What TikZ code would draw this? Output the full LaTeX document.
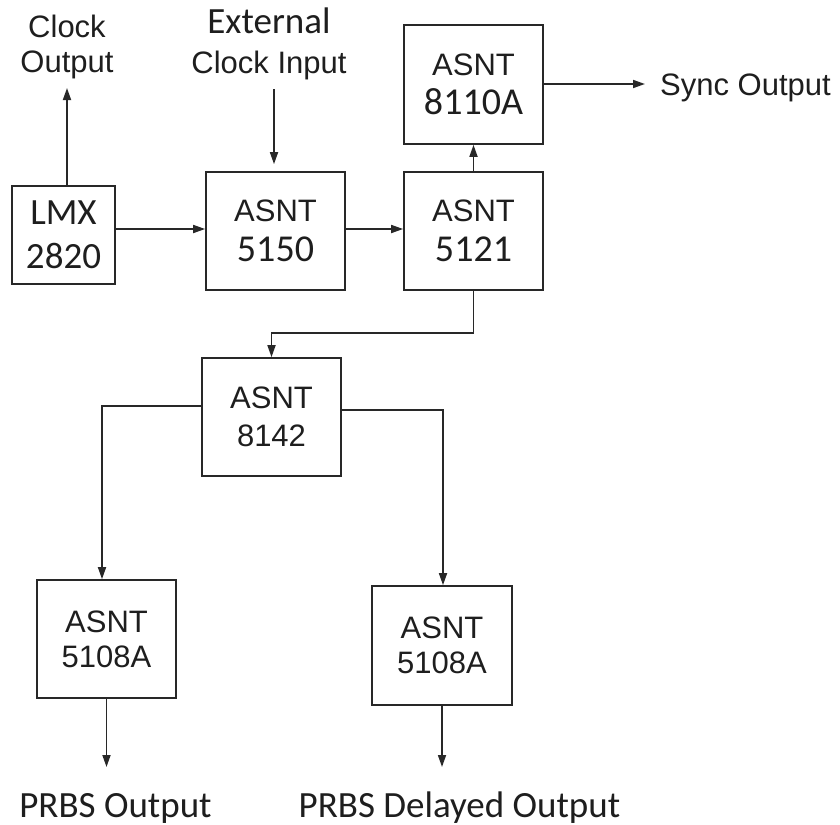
\documentclass[tikz,border=0pt]{standalone}
\usepackage{fontspec}
\setmainfont{Liberation Sans}
\newfontfamily\calib{Carlito}
\usetikzlibrary{arrows.meta}
\definecolor{ink}{RGB}{30,30,30}
\definecolor{wire}{RGB}{40,40,40}
\tikzset{
  blk/.style={draw=wire, line width=1.7bp, rectangle, inner sep=0pt, align=center,
    minimum width=139bp, minimum height=118bp, text=ink,
    font=\fontsize{31bp}{40bp}\selectfont},
  lbl/.style={inner sep=0pt, text=ink, align=center},
  arr/.style={draw=wire, line width=1.7bp, -{Triangle[length=12bp,width=8bp]}}
}
\begin{document}
\begin{tikzpicture}[x=1bp,y=-1bp]
\useasboundingbox (0,0) rectangle (840,825);
% boxes
\node[blk, minimum width=103bp, minimum height=98bp, font=\calib\fontsize{37bp}{44bp}\selectfont] (lmx) at (63.5,235) {LMX\\2820};
\node[blk] (a5150) at (275.5,231) {ASNT\\{\calib\fontsize{38bp}{40bp}\selectfont 5150}};
\node[blk] (a5121) at (473.5,231) {ASNT\\{\calib\fontsize{38bp}{40bp}\selectfont 5121}};
\node[blk, minimum height=119bp, font=\fontsize{31bp}{39bp}\selectfont] (a8110) at (473.5,84.5) {ASNT\\{\calib\fontsize{38bp}{39bp}\selectfont 8110A}};
\node[blk, font=\fontsize{31bp}{38bp}\selectfont] (a8142) at (271.5,417) {ASNT\\8142};
\node[blk, font=\fontsize{31bp}{35bp}\selectfont] (pl) at (106.5,639) {ASNT\\5108A};
\node[blk, minimum width=140bp, minimum height=119bp, font=\fontsize{31bp}{35bp}\selectfont] (pr) at (442,645.5) {ASNT\\5108A};
% labels
\node[lbl, font=\fontsize{31bp}{35bp}\selectfont] (clk) at (67,46.5) {Clock\\Output};
\node[lbl, font=\fontsize{31bp}{40bp}\selectfont] (ext) at (269,43.5) {{\calib\fontsize{37bp}{40bp}\selectfont External}\\Clock Input};
\node[lbl, anchor=base west, font=\fontsize{31bp}{35bp}\selectfont] (sync) at (660,95) {Sync Output};
\node[lbl, anchor=base, font=\calib\fontsize{37bp}{40bp}\selectfont] (prbs) at (115.5,817) {PRBS Output};
\node[lbl, anchor=base, font=\calib\fontsize{37bp}{40bp}\selectfont] (prbsd) at (459.5,817) {PRBS Delayed Output};
% helper coordinates
\coordinate (cko) at (67,88);
\coordinate (eci) at (274,89);
\coordinate (h1) at (0,229);
\coordinate (so) at (645,84);
\coordinate (j1) at (473.5,333);
\coordinate (jl) at (102,406);
\coordinate (jr) at (443,410);
\coordinate (ol) at (106.5,767);
\coordinate (or) at (442,767);
% connectors
\draw[arr] (cko |- lmx.north) -- (cko);
\draw[arr, shorten >=7bp] (eci) -- (eci |- a5150.north);
\draw[arr] (lmx.east |- h1) -- (a5150.west |- h1);
\draw[arr] (a5150.east |- h1) -- (a5121.west |- h1);
\draw[arr] (a5121.north) -- (a8110.south);
\draw[arr] (a8110.east |- so) -- (so);
\draw[arr] (a5121.south) -- (j1) -| (a8142.north);
\draw[arr] (a8142.west |- jl) -- (jl) -- (jl |- pl.north);
\draw[arr] (a8142.east |- jr) -- (jr) -- (jr |- pr.north);
\draw[arr] (pl.south) -- (ol);
\draw[arr] (pr.south) -- (or);
\end{tikzpicture}
\end{document}
